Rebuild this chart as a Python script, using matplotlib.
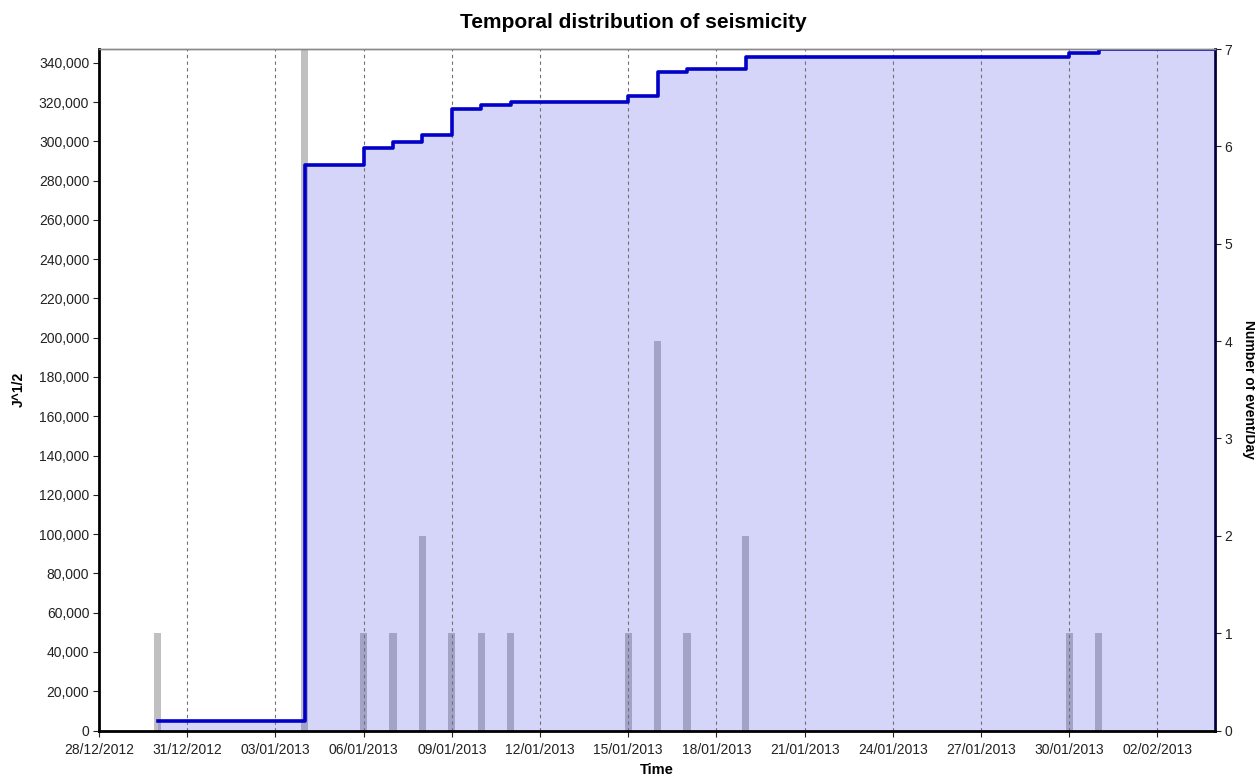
import matplotlib
matplotlib.use('Agg')
import matplotlib.pyplot as plt
import matplotlib.dates as mdates
from matplotlib.ticker import FuncFormatter, MultipleLocator
import numpy as np
import pandas as pd

plt.rcParams['font.family'] = ['Liberation Sans', 'DejaVu Sans']

# events per day (right axis)
event_days = ['2012-12-30', '2013-01-04', '2013-01-06', '2013-01-07', '2013-01-08',
              '2013-01-09', '2013-01-10', '2013-01-11', '2013-01-15', '2013-01-16',
              '2013-01-17', '2013-01-19', '2013-01-30', '2013-01-31']
events_per_day = [1, 7, 1, 1, 2, 1, 1, 1, 1, 4, 1, 2, 1, 1]

# cumulative J^1/2 after each day (left axis)
cum_energy = [4800, 288000, 296500, 299600, 303200, 316200, 318400, 320100,
              323000, 335100, 336600, 342800, 345200, 346800]

x_start = pd.Timestamp('2012-12-28')
x_end = pd.Timestamp('2013-02-03 23:00')
tick_days = pd.date_range('2012-12-28', '2013-02-02', freq='3D')

days = pd.to_datetime(event_days)

fig = plt.figure(figsize=(12.55, 7.78), dpi=100)
ax1 = fig.add_axes([99 / 1255, 1 - 730.5 / 778, (1215 - 99) / 1255, (730.5 - 49) / 778])
ax2 = ax1.twinx()

# bars behind the fill
ax2.bar(days, events_per_day, width=0.24, color='#c0c0c0', zorder=1)
ax2.set_ylim(0, 7)
ax2.yaxis.set_major_locator(MultipleLocator(1))

ax1.set_zorder(ax2.get_zorder() + 1)
ax1.patch.set_visible(False)

xs = list(days) + [x_end]
ys = cum_energy + [cum_energy[-1]]
ax1.fill_between(xs, ys, 0, step='post', color=(0.25, 0.25, 0.9), alpha=0.22, lw=0)
ax1.step(xs, ys, where='post', color='#0000c8', lw=2.6)

ax1.set_xlim(x_start, x_end)
ax1.set_ylim(0, 347000)
ax1.yaxis.set_major_locator(MultipleLocator(20000))
ax1.yaxis.set_major_formatter(FuncFormatter(lambda v, p: f'{int(v):,}'))
ax1.set_xticks(tick_days)
ax1.xaxis.set_major_formatter(mdates.DateFormatter('%d/%m/%Y'))
ax1.xaxis.grid(True, linestyle=(0, (3, 3)), color='#707070', lw=0.8)

for ax in (ax1, ax2):
    ax.tick_params(labelsize=10, length=4, width=0.8, colors='#222222', pad=3)
    ax.spines['top'].set_color('#888888')
    ax.spines['top'].set_linewidth(1)
ax1.tick_params(axis='x', pad=5)
ax1.spines['left'].set_linewidth(2)
ax1.spines['bottom'].set_linewidth(2)
ax2.spines['right'].set_linewidth(2)
ax2.spines['right'].set_color('#000033')
ax1.spines['right'].set_visible(False)
ax2.spines['left'].set_visible(False)
ax2.spines['bottom'].set_visible(False)

ax1.set_xlabel('Time', fontsize=10.5, fontweight='bold', labelpad=4)
ax1.set_ylabel('J^1/2', fontsize=10, fontweight='bold', labelpad=9)
fig.text(1249 / 1255, 0.5, 'Number of event/Day', rotation=270, ha='center', va='center',
         fontsize=10, fontweight='bold')
fig.text(0.505, 1 - 23 / 778, 'Temporal distribution of seismicity', ha='center', va='center',
         fontsize=15, fontweight='bold')

fig.savefig('out.png', dpi=100)
